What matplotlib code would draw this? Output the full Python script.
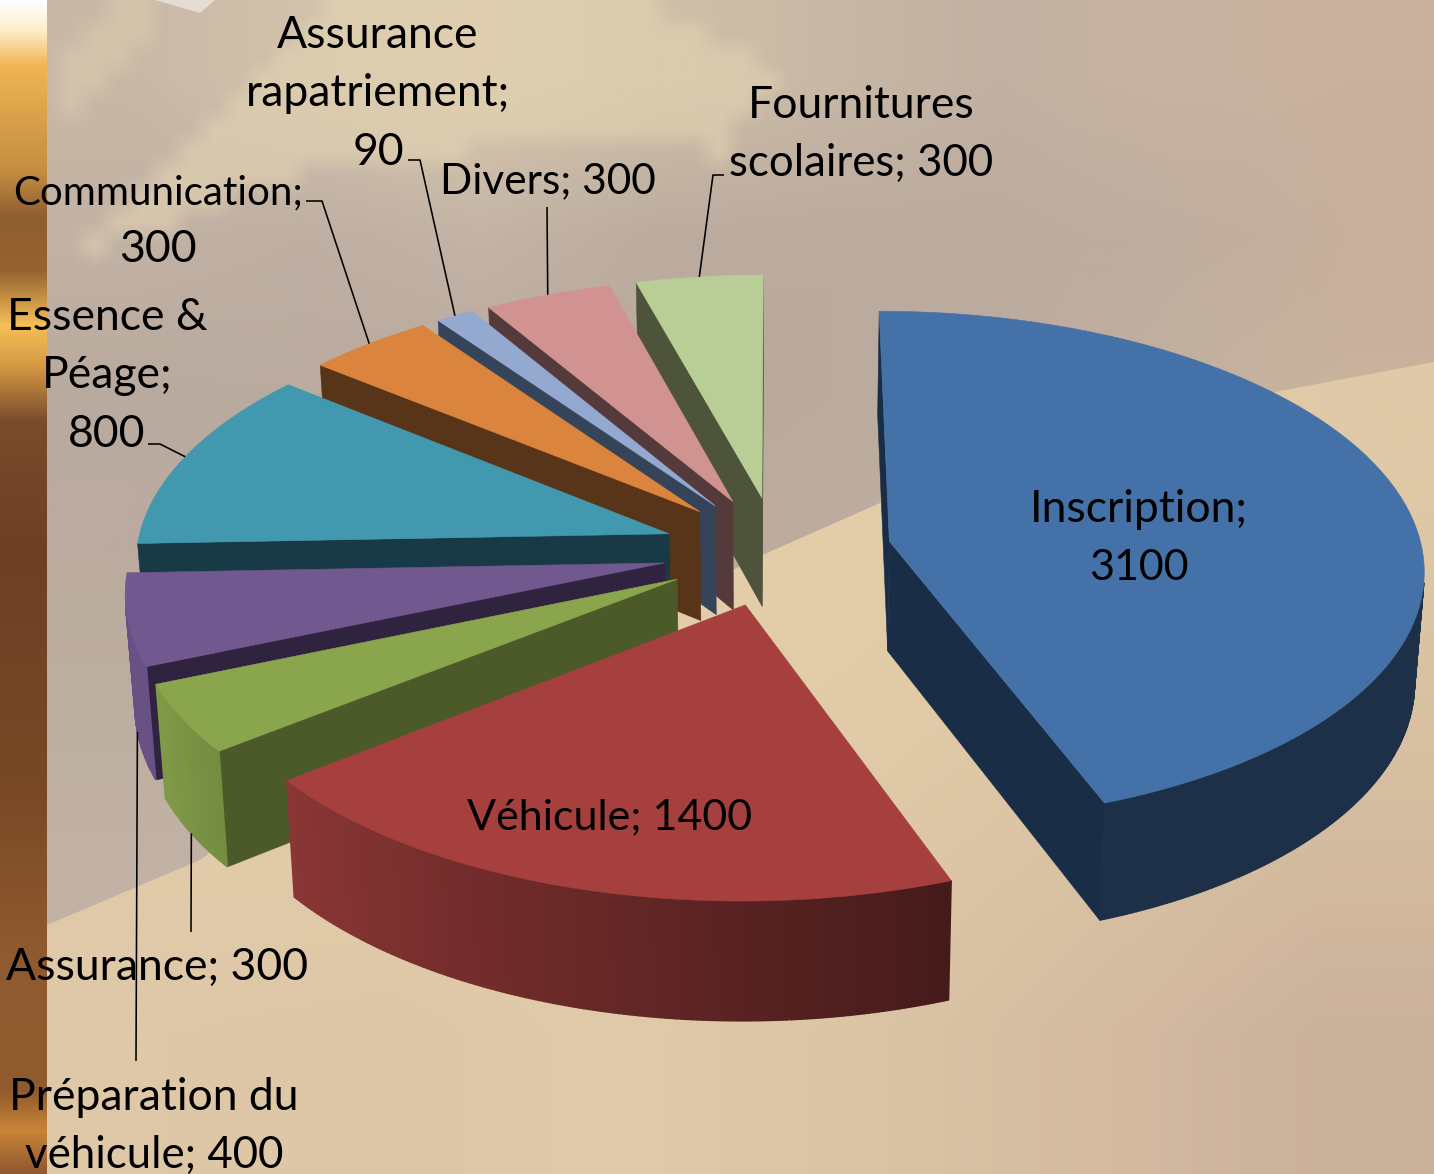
import numpy as np
import matplotlib
matplotlib.use('Agg')
import matplotlib.pyplot as plt
from matplotlib.colors import to_rgb
from matplotlib.path import Path
from matplotlib.patches import PathPatch, Polygon

plt.rcParams['font.family'] = ['Lato', 'DejaVu Sans']

# slices, clockwise from 12 o'clock
names = ['Inscription', 'Véhicule', 'Assurance', 'Préparation du véhicule', 'Essence & Péage',
         'Communication', 'Assurance rapatriement', 'Divers', 'Fournitures scolaires']
values = [3100, 1400, 300, 400, 800, 300, 90, 300, 300]
top_colors = ['#4472a8', '#a5403f', '#8aa64d', '#71588f', '#4198af',
              '#db843d', '#93a9cf', '#d19392', '#b9cd96']
cut_colors = ['#1a2d46', '#4f1a19', '#4b5a28', '#2f2340', '#173a46',
              '#583418', '#36445a', '#553a3c', '#4d5439']

# label text lines, centre x and first baseline y (pixels)
label_lines = [['Inscription;', '3100'], ['Véhicule; 1400'], ['Assurance; 300'],
               ['Préparation du', 'véhicule; 400'], ['Essence &', 'Péage;', '800'],
               ['Communication;', '300'], ['Assurance', 'rapatriement;', '90'],
               ['Divers; 300'], ['Fournitures', 'scolaires; 300']]
label_x = [1139, 610, 157, 154, 107, 158, 378, 548, 861]
label_y = [522, 829, 980, 1110, 330, 204, 48, 193, 118]
line_step = 58.3
# Lato runs wider than the original font on these lines
line_size = {'Communication;': 29, 'Divers; 300': 30.5, 'Véhicule; 1400': 31, 'scolaires; 300': 31.5,
             'véhicule; 400': 31.5, '3100': 31}

# leader elbows, rim end is worked out from the slice
leader_pts = {2: [(191, 932)], 3: [(136, 1061)], 4: [(160, 444), (148, 444)],
              5: [(322, 201), (306, 201)], 6: [(420, 160), (408, 160)],
              7: [(547, 207)], 8: [(713, 175), (724, 175)]}
leader_low = [2, 3]

# projection of the tilted pie
x0, y0 = 777, 551
ax_a, ax_b = 533, 255
persp = 0.10
explode = 0.215
depth = 110
bottom_scale = 0.985


def project(u, v, low=False):
    s = 1 / (1 + persp * v)
    x = x0 + ax_a * u * s
    y = y0 - ax_b * v * s
    if low:
        x = x0 + (x - x0) * bottom_scale
        y = y0 + (y - y0) * bottom_scale + depth * s
    return x, y


def rim(theta, mid, low=False):
    u = explode * np.sin(mid) + np.sin(theta)
    v = explode * np.cos(mid) + np.cos(theta)
    return project(u, v, low)


def centre(mid, low=False):
    return project(explode * np.sin(mid), explode * np.cos(mid), low)


def shade(color, deg):
    f = np.clip(0.42 + (deg - 160) / 85 * 0.5, 0.42, 0.92)
    return tuple(c * f for c in to_rgb(color))


def facing(p, q, qb, pb):
    pts = np.array([p, q, qb, pb])
    x, y = pts[:, 0], pts[:, 1]
    return 0.5 * np.sum(x * np.roll(y, -1) - np.roll(x, -1) * y) < 0


def quad(ax, p, q, qb, pb, col, lw=0.4):
    if facing(p, q, qb, pb):
        ax.add_patch(Polygon([p, q, qb, pb], closed=True, fc=col, ec=col, lw=lw, zorder=3))


def soft_streak(ax, poly, color, alpha, step=24):
    # coarse mask, bilinear upscaling gives the blurred edge of the photo
    xs = np.arange(47, 1000, step)
    ys = np.arange(0, 420, step)
    gx, gy = np.meshgrid(xs, ys)
    inside = Path(poly).contains_points(np.c_[gx.ravel(), gy.ravel()]).reshape(gx.shape)
    rgba = np.zeros(gx.shape + (4,))
    rgba[..., :3] = to_rgb(color)
    rgba[..., 3] = inside * alpha
    ax.imshow(rgba, extent=(47 - step / 2, xs[-1] + step / 2, ys[-1] + step / 2, 0), interpolation='bilinear',
              aspect='auto', zorder=0.5)


fig = plt.figure(figsize=(14.34, 11.74), dpi=100)
ax = fig.add_axes([0, 0, 1, 1])
ax.axis('off')

# background picture, rough colour grids
sky = [['#c8b8a6', '#d2c2ac', '#d8c8ae', '#d0c0a8', '#c8b8a6', '#c2b1a2', '#c8b3a2', '#c9b19e'],
       ['#c2b2a4', '#bfafa3', '#c4b4a6', '#bcac9f', '#bbab9f', '#bbab9f', '#bfad9f', '#c6af9c'],
       ['#b9aa9f', '#baaa9f', '#b9a99e', '#b9a99e', '#bbab9f', '#bcac9f', '#c2b09f', '#c9b39d'],
       ['#bbab9f', '#bbab9f', '#bbab9f', '#bcac9f', '#bdad9f', '#c0af9f', '#c6b39f', '#ccb79f'],
       ['#bdaea2', '#bdada1', '#bdada1', '#bfaea1', '#c0afa1', '#c4b2a1', '#c8b5a1', '#ccb7a0'],
       ['#c2b2a5', '#c2b2a5', '#c2b2a5', '#c4b2a2', '#c6b4a2', '#c8b5a2', '#cab6a2', '#ccb7a2']]
sand = [['#e3cda8', '#e5cfa9', '#e5cfa9', '#e4cea9', '#e3cda8', '#e0c9a7'],
        ['#e3cca9', '#e4cda9', '#e3cca8', '#e1caa7', '#ddc6a5', '#d7bfa1'],
        ['#dfc8a8', '#dec7a7', '#e1caa9', '#dcc5a5', '#d4bba1', '#ccb29c']]
strip_cols = ['#ffffff', '#fdeecb', '#f0b552', '#d49c48', '#c48f42', '#8f5f30', '#96622f',
              '#f6bf58', '#d69a45', '#7a4c2c', '#6d3f25', '#7a4a26', '#8f5a30', '#8f5a2e',
              '#c98535', '#8f5630']
strip_y = [0, 30, 65, 130, 170, 215, 270, 325, 365, 420, 550, 800, 950, 1090, 1130, 1174]


def grid_rgb(rows):
    return np.array([[to_rgb(c) for c in r] for r in rows])


ax.imshow(grid_rgb(sky), extent=(47, 1434, 950, 0), interpolation='bilinear', aspect='auto', zorder=0)

# pale streaks in the upper part of the photo
soft_streak(ax, [(47, 262), (200, 205), (320, 165), (520, 135), (720, 145), (790, 60), (620, -20), (330, -20),
                 (230, 90), (130, 190)], '#e4d4b2', 0.6)
soft_streak(ax, [(47, 140), (110, 80), (175, 15), (120, -20), (47, 60)], '#e2d2b0', 0.45)
ax.add_patch(Polygon([(155, 0), (200, 13), (215, 0)], closed=True, fc='#ffffff', ec='none', alpha=0.5, zorder=0.6))

dune = [(47, 925), (200, 860), (293, 790), (530, 670), (767, 553), (880, 503), (1100, 425),
        (1434, 362), (1434, 1174), (47, 1174)]
im = ax.imshow(grid_rgb(sand), extent=(47, 1434, 1174, 340), interpolation='bilinear', aspect='auto', zorder=1)
clip = PathPatch(Path(dune + [dune[0]]), transform=ax.transData, fc='none', ec='none')
ax.add_patch(clip)
im.set_clip_path(clip)

y_rows = np.arange(0, 1174)
strip_rgb = np.stack([np.interp(y_rows, strip_y, [to_rgb(c)[i] for c in strip_cols]) for i in range(3)], axis=1)
ax.imshow(strip_rgb[:, None, :], extent=(0, 47, 1174, 0), aspect='auto', zorder=1.5)
ax.set_xlim(0, 1434)
ax.set_ylim(1174, 0)

# the slices, far ones first
total = sum(values)
edges = np.cumsum([0] + values) / total * 2 * np.pi
mids = (edges[:-1] + edges[1:]) / 2
for i in sorted(range(len(values)), key=lambda k: -np.cos(mids[k])):
    a0, a1, mid = edges[i], edges[i + 1], mids[i]
    arc = np.linspace(a0, a1, max(int(np.degrees(a1 - a0)) * 2, 4))
    c, cb = centre(mid), centre(mid, True)
    quad(ax, c, rim(a0, mid), rim(a0, mid, True), cb, cut_colors[i])
    quad(ax, rim(a1, mid), c, cb, rim(a1, mid, True), cut_colors[i])
    for t0, t1 in zip(arc[:-1], arc[1:]):
        quad(ax, rim(t0, mid), rim(t1, mid), rim(t1, mid, True), rim(t0, mid, True),
             shade(top_colors[i], np.degrees((t0 + t1) / 2)), lw=1.0)
    outline = [c] + [rim(t, mid) for t in arc]
    ax.add_patch(Polygon(outline, closed=True, fc=top_colors[i], ec=top_colors[i], lw=0.4, zorder=3))

# leaders
for i, pts in leader_pts.items():
    start = rim(mids[i], mids[i], i in leader_low)
    xs, ys = zip(start, *pts)
    ax.plot(xs, ys, color='black', lw=1.15, zorder=5, solid_capstyle='butt')

# labels
for lines, x, y in zip(label_lines, label_x, label_y):
    for n, line in enumerate(lines):
        ax.text(x, y + n * line_step, line, ha='center', va='baseline',
                fontsize=line_size.get(line, 32), color='black', zorder=6)

fig.savefig('out.png', dpi=100)
